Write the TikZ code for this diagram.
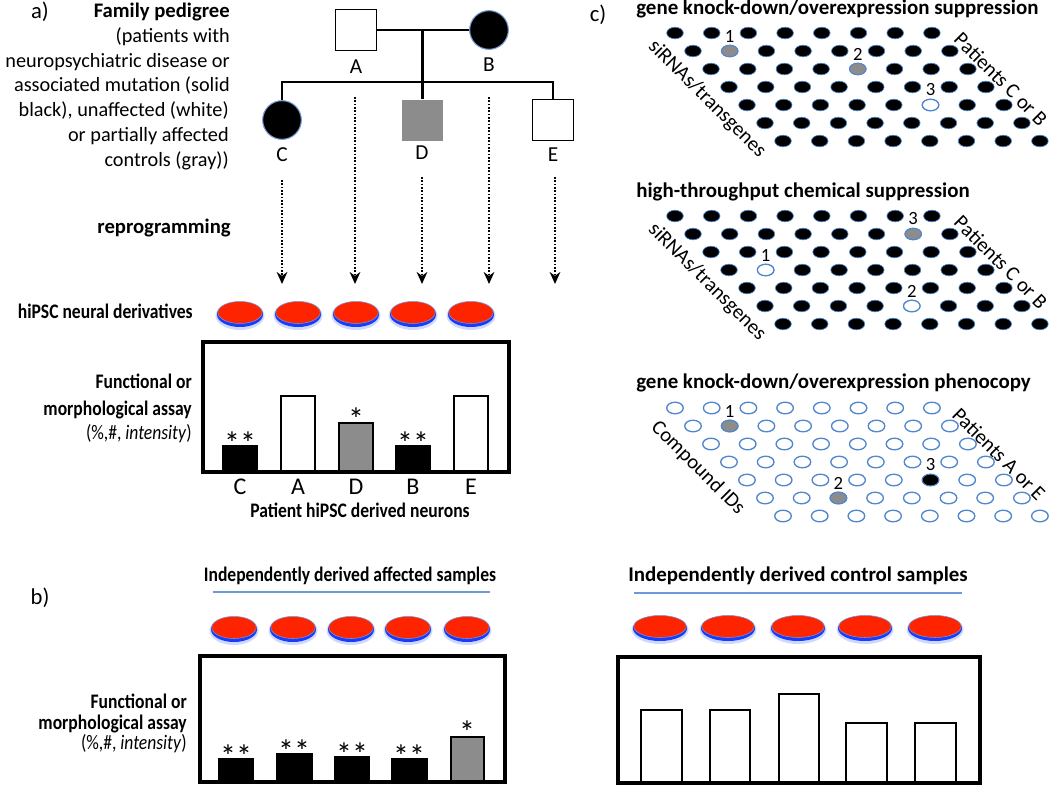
\documentclass[tikz,border=0pt]{standalone}
\usepackage{graphicx}
\usepackage{fontspec}
\setmainfont{Carlito}
\usetikzlibrary{arrows.meta,shapes.geometric}
\definecolor{dishred}{RGB}{255,36,0}
\definecolor{dishblue}{RGB}{25,60,250}
\definecolor{dishglow}{RGB}{160,180,255}
\definecolor{rimblue}{RGB}{120,150,210}
\definecolor{ltblue}{RGB}{110,155,215}
\definecolor{wellblue}{RGB}{80,135,205}
\definecolor{bargray}{RGB}{140,140,140}
\newcommand{\cx}[1]{\scalebox{0.85}[1]{#1}}
\newcommand{\drawdish}[3]{%
  \fill[dishglow,opacity=0.5] (#1,#2+2.5) ellipse [x radius=#3+1.5, y radius=14.5];
  \fill[dishblue] (#1,#2+1.5) ellipse [x radius=#3, y radius=12.5];
  \filldraw[fill=dishred, draw=rimblue, line width=0.4pt] (#1,#2-0.5) ellipse [x radius=#3-0.8, y radius=11];
}
\newcommand{\wellgrid}[2]{%
  \foreach \r in {0,...,6}{\foreach \c in {0,...,7}{
    \path[#2] (675+18*\r+36.7*\c, #1+18*\r) ellipse [x radius=8.3, y radius=5.8];
  }}}
\begin{document}
\begin{tikzpicture}[x=0.75pt,y=-0.75pt,
  txt/.style={font=\fontsize{15.2}{18}\selectfont, inner sep=0pt, anchor=base east},
  ctxt/.style={font=\fontsize{15.5}{18}\selectfont, inner sep=0pt, anchor=base east},
  btxt/.style={font=\bfseries\fontsize{15.5}{18}\selectfont, inner sep=0pt},
  ttxt/.style={font=\bfseries\fontsize{15.7}{18}\selectfont, inner sep=0pt, anchor=base west},
  letter/.style={font=\fontsize{16}{18}\selectfont, inner sep=0pt},
  xletter/.style={font=\fontsize{18}{20}\selectfont, inner sep=0pt},
  panel/.style={font=\fontsize{17}{19}\selectfont, inner sep=0pt},
  star/.style={font=\fontsize{24}{26}\selectfont, inner sep=0pt, anchor=base},
  wnum/.style={font=\fontsize{14}{16}\selectfont, inner sep=0pt},
  axis/.style={font=\fontsize{15.5}{18}\selectfont, inner sep=0pt, rotate=-45},
  ped/.style={line width=2.2pt},
  sq/.style={draw, line width=1pt, minimum size=30.75pt, inner sep=0pt},
  circ/.style={circle, fill=black, draw=rimblue, line width=0.8pt, minimum size=29pt, inner sep=0pt},
  bigbox/.style={draw, line width=3.2pt},
  bar/.style={draw, line width=0.8pt},
  dotarrow/.style={line width=2.2pt, dash pattern=on 1.3pt off 1.2pt, -{Stealth[length=9pt,width=8pt]}},
  sepline/.style={draw=ltblue, line width=2pt},
  blkwell/.style={fill=black, draw=wellblue, line width=0.5pt},
  whtwell/.style={fill=white, draw=wellblue, line width=1pt},
  graywell/.style={fill=bargray, draw=wellblue, line width=0.8pt},
]
\useasboundingbox[fill=white] (0,0) rectangle (1050,793);

% ---------- panel labels
\node[panel] (pa) at (40,12) {a)};
\node[panel] (pb) at (40,598) {b)};
\node[panel] (pc) at (598,15) {c)};

% ---------- pedigree legend text
\node[btxt, anchor=base east] (t1) at (230,17) {Family pedigree};
\node[txt] (t2) at (230,42) {(patients with};
\node[txt] (t3) at (230,67) {neuropsychiatric disease or};
\node[txt] (t4) at (230,91) {associated mutation (solid};
\node[txt] (t5) at (229,116) {black), unaffected (white)};
\node[txt] (t6) at (229,141) {or partially affected};
\node[txt] (t7) at (229,166) {controls (gray))};
\node[btxt, anchor=base east] (t8) at (231,233) {reprogramming};
\node[btxt, anchor=base east] (t9) at (193,318) {\cx{hiPSC neural derivatives}};
\node[btxt, anchor=base east] (t10) at (192,388) {\cx{Functional or}};
\node[btxt, anchor=base east] (t11) at (192,415) {\cx{morphological assay}};
\node[ctxt] (t12) at (192,439) {\cx{(\%,\#, \textit{intensity})}};

% ---------- pedigree
\node[sq, fill=white] (A) at (356,30) {};
\node[circ] (B) at (489,30) {};
\node[circ] (C) at (282,120) {};
\node[sq, draw=none, fill=bargray] (D) at (422.5,120) {};
\node[sq, fill=white] (E) at (553,120) {};
\coordinate (m) at (422.5,30);
\coordinate (sib) at (422.5,82);
\draw[ped] (A.east) -- (B.west);
\draw[ped] (m) -- (D.north);
\draw[ped] (C.north) |- (E.north |- sib) -- (E.north);
\node[letter] (lA) at (356,67) {A};
\node[letter] (lB) at (489,65) {B};
\node[letter] (lC) at (282,155) {C};
\node[letter] (lD) at (422,153) {D};
\node[letter] (lE) at (553,155) {E};

% ---------- dotted reprogramming arrows
\coordinate (sC) at (282,180); \coordinate (eC) at (282,284);
\coordinate (sA) at (355,97);  \coordinate (eA) at (355,284);
\coordinate (sD) at (422,177); \coordinate (eD) at (422,284);
\coordinate (sB) at (489,97);  \coordinate (eB) at (489,284);
\coordinate (sE) at (555,177); \coordinate (eE) at (555,284);
\foreach \k in {C,A,D,B,E}{\draw[dotarrow] (s\k) -- (e\k);}

% ---------- dishes a)
\foreach \x in {240,298,356,413,471}{\drawdish{\x}{313}{23}}

% ---------- assay box a)
\foreach \xa/\xb/\yt/\col in {223/257/446/black,281/315/396/white,339/373/423/bargray,396/430/446/black,454/488/396/white}{
  \filldraw[bar, fill=\col] (\xa,472) rectangle (\xb,\yt);}
\draw[bigbox] (203,342) rectangle (509,472);
\node[star] (s1) at (240,454) {**};
\node[star] (s2) at (356,430) {*};
\node[star] (s3) at (413,454) {**};
\foreach \x/\l in {240/C,298/A,356/D,413/B,471/E}{\node[xletter] (x\l) at (\x,487) {\l};}
\node[btxt, anchor=base] (pn) at (360,517) {\cx{Patient hiPSC derived neurons}};

% ---------- panel b)
\node[btxt, anchor=base] (ta) at (350,581) {\cx{Independently derived affected samples}};
\draw[sepline] (213,592) -- (490,592);
\node[btxt, anchor=base, font=\bfseries\fontsize{15.7}{18}\selectfont] (tc) at (798,581) {Independently derived control samples};
\draw[sepline] (634,593) -- (962,593);
\foreach \x in {234,293,351,408,467}{\drawdish{\x}{628}{23}}
\foreach \x in {660,728,798,865,935}{\drawdish{\x}{627}{27}}

\foreach \xa/\xb/\yt/\col in {219/253/759/black,277/312/754/black,335/369/757/black,392/427/759/black,451/484/737/bargray}{
  \filldraw[bar, fill=\col] (\xa,782) rectangle (\xb,\yt);}
\draw[bigbox] (200,656) rectangle (505,782);
\node[star] (b1) at (236,767) {**};
\node[star] (b2) at (294,762) {**};
\node[star] (b3) at (352,765) {**};
\node[star] (b4) at (409,767) {**};
\node[star] (b5) at (467,743) {*};
\node[btxt, anchor=base east] (u1) at (187,708) {\cx{Functional or}};
\node[btxt, anchor=base east] (u2) at (187,729) {\cx{morphological assay}};
\node[ctxt] (u3) at (187,749) {\cx{(\%,\#, \textit{intensity})}};

\foreach \xa/\xb/\yt in {641/682/710,710/750/710,779/819/694,846/887/723,915/956/723}{
  \filldraw[bar, fill=white] (\xa,783) rectangle (\xb,\yt);}
\draw[bigbox] (618,657) rectangle (980,783);

% ---------- panel c) grids
\node[ttxt] (g1t) at (636,14) {gene knock-down/overexpression suppression};
\wellgrid{33}{blkwell}
\path[graywell] (675+18+36.7,33+18) ellipse [x radius=8.3, y radius=5.8];
\path[graywell] (675+36+36.7*4,33+36) ellipse [x radius=8.3, y radius=5.8];
\path[whtwell] (675+72+36.7*5,33+72) ellipse [x radius=8.3, y radius=5.8];
\node[wnum] (g1a) at (675+18+36.7,33+18-15) {1};
\node[wnum] (g1b) at (675+36+36.7*4,33+36-15) {2};
\node[wnum] (g1c) at (675+72+36.7*5,33+72-15) {3};
\node[axis] (g1l) at (707,99) {siRNAs/transgenes};
\node[axis] (g1r) at (1001,79) {Patients C or B};

\node[ttxt] (g2t) at (636,197) {high-throughput chemical suppression};
\wellgrid{216}{blkwell}
\path[graywell] (675+18+36.7*6,216+18) ellipse [x radius=8.3, y radius=5.8];
\path[whtwell] (675+54+36.7,216+54) ellipse [x radius=8.3, y radius=5.8];
\path[whtwell] (675+90+36.7*4,216+90) ellipse [x radius=8.3, y radius=5.8];
\node[wnum] (g2c) at (675+18+36.7*6,216+18-15) {3};
\node[wnum] (g2a) at (675+54+36.7,216+54-15) {1};
\node[wnum] (g2b) at (675+90+36.7*4,216+90-15) {2};
\node[axis] (g2l) at (707,282) {siRNAs/transgenes};
\node[axis] (g2r) at (1001,262) {Patients C or B};

\node[ttxt] (g3t) at (636,388) {gene knock-down/overexpression phenocopy};
\wellgrid{408}{whtwell}
\path[graywell] (675+18+36.7,408+18) ellipse [x radius=8.3, y radius=5.8];
\path[graywell] (675+90+36.7*2,408+90) ellipse [x radius=8.3, y radius=5.8];
\path[blkwell] (675+72+36.7*5,408+72) ellipse [x radius=8.3, y radius=5.8];
\node[wnum] (g3a) at (675+18+36.7,408+18-15) {1};
\node[wnum] (g3b) at (675+90+36.7*2,408+90-15) {2};
\node[wnum] (g3c) at (675+72+36.7*5,408+72-15) {3};
\node[axis] (g3l) at (698,468) {Compound IDs};
\node[axis] (g3r) at (999,454) {Patients A or E};
\end{tikzpicture}
\end{document}
